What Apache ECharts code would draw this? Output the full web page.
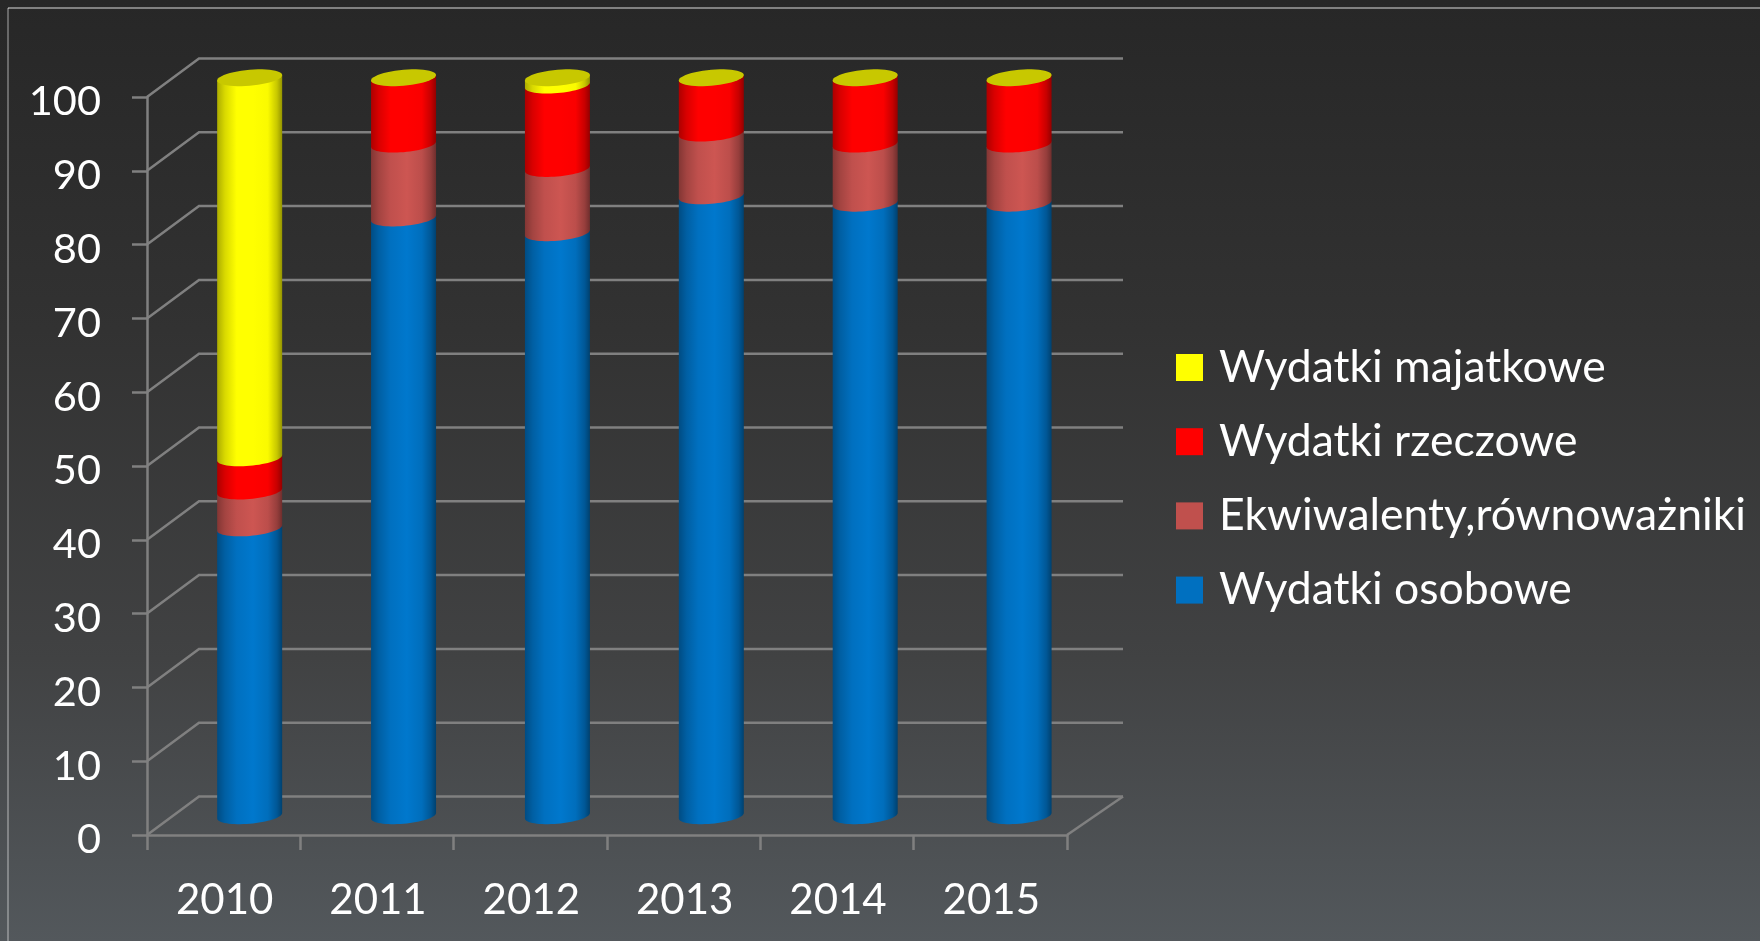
<!DOCTYPE html>
<html><head><meta charset="utf-8">
<style>html,body{margin:0;padding:0;background:#333}#c{width:1760px;height:941px}</style>
<script src="https://cdn.jsdelivr.net/npm/echarts@6/dist/echarts.min.js"></script>
</head><body><div id="c"></div>
<script>
const categories = ['2010','2011','2012','2013','2014','2015'];
const yTicks = [0,10,20,30,40,50,60,70,80,90,100];
const osobowe = [39,81,79,84,83,83];
const ekwiwalenty = [5,10,8.7,8.5,8,8];
const rzeczowe = [4.5,9,11.3,7.5,9,9];
const majatkowe = [51.5,0,1,0,0,0];
const names = ['Wydatki osobowe','Ekwiwalenty,równoważniki','Wydatki rzeczowe','Wydatki majatkowe'];
const colors = ['#0070C0','#C0504D','#FF0000','#FFFF00'];

const FONT = 'Lato, Carlito, sans-serif';
const DEPTH_X = 52, DEPTH_Y = 38.5, LINE = '#808080', SPREAD = 0.55;
const CAP = '#C8C800';

function shade(hex, f){
  const n = parseInt(hex.slice(1),16);
  const c = [n>>16&255,n>>8&255,n&255].map(v=>Math.min(255,Math.round(v*f)));
  return 'rgb('+c.join(',')+')';
}
function bodyFill(hex){
  return {type:'linear',x:0,y:0,x2:1,y2:0,colorStops:[
    {offset:0,color:shade(hex,.68)},{offset:.12,color:shade(hex,.85)},{offset:.3,color:shade(hex,1)},
    {offset:.55,color:shade(hex,1.07)},{offset:.78,color:shade(hex,.98)},{offset:.92,color:shade(hex,.78)},{offset:1,color:shade(hex,.58)}]};
}
function makeBars(idx){
  return function(params, api){
    const i = api.value(0), s = api.value(1), e = api.value(2);
    const band = api.size([1,0])[0];
    const a = band*0.212, b = a*0.245, sh = a*0.085;
    const p0 = api.coord([i,s]), p1 = api.coord([i,e]);
    const cx = p0[0]+DEPTH_X/2+i*SPREAD, y0 = p0[1]-DEPTH_Y/2, y1 = p1[1]-DEPTH_Y/2;
    const children = [];
    if (e > s){
      const pts = [[cx-a,y1+sh],[cx+a,y1-sh]];
      for(let k=0;k<=32;k++){
        const t = Math.PI*(1-k/32);
        pts.push([cx-a*Math.cos(t), y0+sh*Math.cos(t)+b*Math.sin(t)]);
      }
      children.push({type:'polygon',shape:{points:pts},style:{fill:bodyFill(colors[idx])}});
    }
    if (idx === colors.length-1){
      const pts = [];
      for(let k=0;k<48;k++){
        const t = 2*Math.PI*k/48;
        pts.push([cx-a*Math.cos(t), y1+sh*Math.cos(t)+b*Math.sin(t)]);
      }
      children.push({type:'polygon',shape:{points:pts},style:{fill:CAP}});
    }
    return {type:'group',children};
  };
}
function wallItem(params, api){
  const v = api.value(1);
  const p = api.coord([0,v]);
  const cs = params.coordSys;
  const style = {stroke:LINE,lineWidth:2.5,fill:'none'};
  const children = [{type:'polyline',shape:{points:[[cs.x,p[1]],[cs.x+DEPTH_X,p[1]-DEPTH_Y],[cs.x+cs.width+DEPTH_X+4,p[1]-DEPTH_Y]]},style}];
  if (v === 0) children.push({type:'line',shape:{x1:cs.x+cs.width,y1:p[1],x2:cs.x+cs.width+DEPTH_X+4,y2:p[1]-DEPTH_Y},style});
  return {type:'group',children};
}

const stacks = [osobowe,ekwiwalenty,rzeczowe,majatkowe];
const running = categories.map(()=>0);
const barSeries = stacks.map((vals,idx)=>{
  const data = vals.map((v,i)=>{const st=running[i];running[i]=st+v;return [i,st,st+v];});
  return {type:'custom',name:names[idx],renderItem:makeBars(idx),data,encode:{x:0,y:[1,2]},
    itemStyle:{color:colors[idx]},z:3,silent:true,animation:false};
});

const chart = echarts.init(document.getElementById('c'),null,{renderer:'canvas'});
chart.setOption({
  animation:false,
  backgroundColor:{type:'linear',x:0,y:0,x2:0,y2:1,colorStops:[
    {offset:0,color:'#272727'},{offset:.35,color:'#323232'},{offset:.7,color:'#414243'},{offset:1,color:'#53585C'}]},
  grid:{left:147,right:693,top:97,bottom:106,containLabel:false},
  legend:{orient:'vertical',left:1171,top:340,itemWidth:27,itemHeight:27,itemGap:29.2,icon:'rect',
    data:names.slice().reverse(),selectedMode:false,
    textStyle:{color:'#fff',fontFamily:FONT,fontSize:44.5,padding:[0,0,0,11]}},
  xAxis:{type:'category',data:categories,
    axisLine:{show:true,lineStyle:{color:LINE,width:2.5}},
    axisTick:{show:true,length:15,lineStyle:{color:LINE,width:2.5}},
    axisLabel:{color:'#fff',fontFamily:FONT,fontSize:42,margin:44,padding:[0,0,0,2]}},
  yAxis:{type:'value',min:0,max:100,interval:10,
    axisLine:{show:true,lineStyle:{color:LINE,width:2.5}},
    axisTick:{show:true,length:15,lineStyle:{color:LINE,width:2.5}},
    splitLine:{show:false},
    axisLabel:{color:'#fff',fontFamily:FONT,fontSize:41.5,margin:46,verticalAlign:'top',lineHeight:10}},
  graphic:[
    {type:'line',silent:true,shape:{x1:8,y1:8,x2:1760,y2:8},style:{stroke:'rgba(255,255,255,.42)',lineWidth:2}},
    {type:'line',silent:true,shape:{x1:8,y1:8,x2:8,y2:941},style:{stroke:'rgba(255,255,255,.3)',lineWidth:2}}
  ],
  series:[{type:'custom',renderItem:wallItem,data:yTicks.map(v=>[0,v]),encode:{x:0,y:1},z:1,silent:true,animation:false}].concat(barSeries)
});
</script></body></html>
